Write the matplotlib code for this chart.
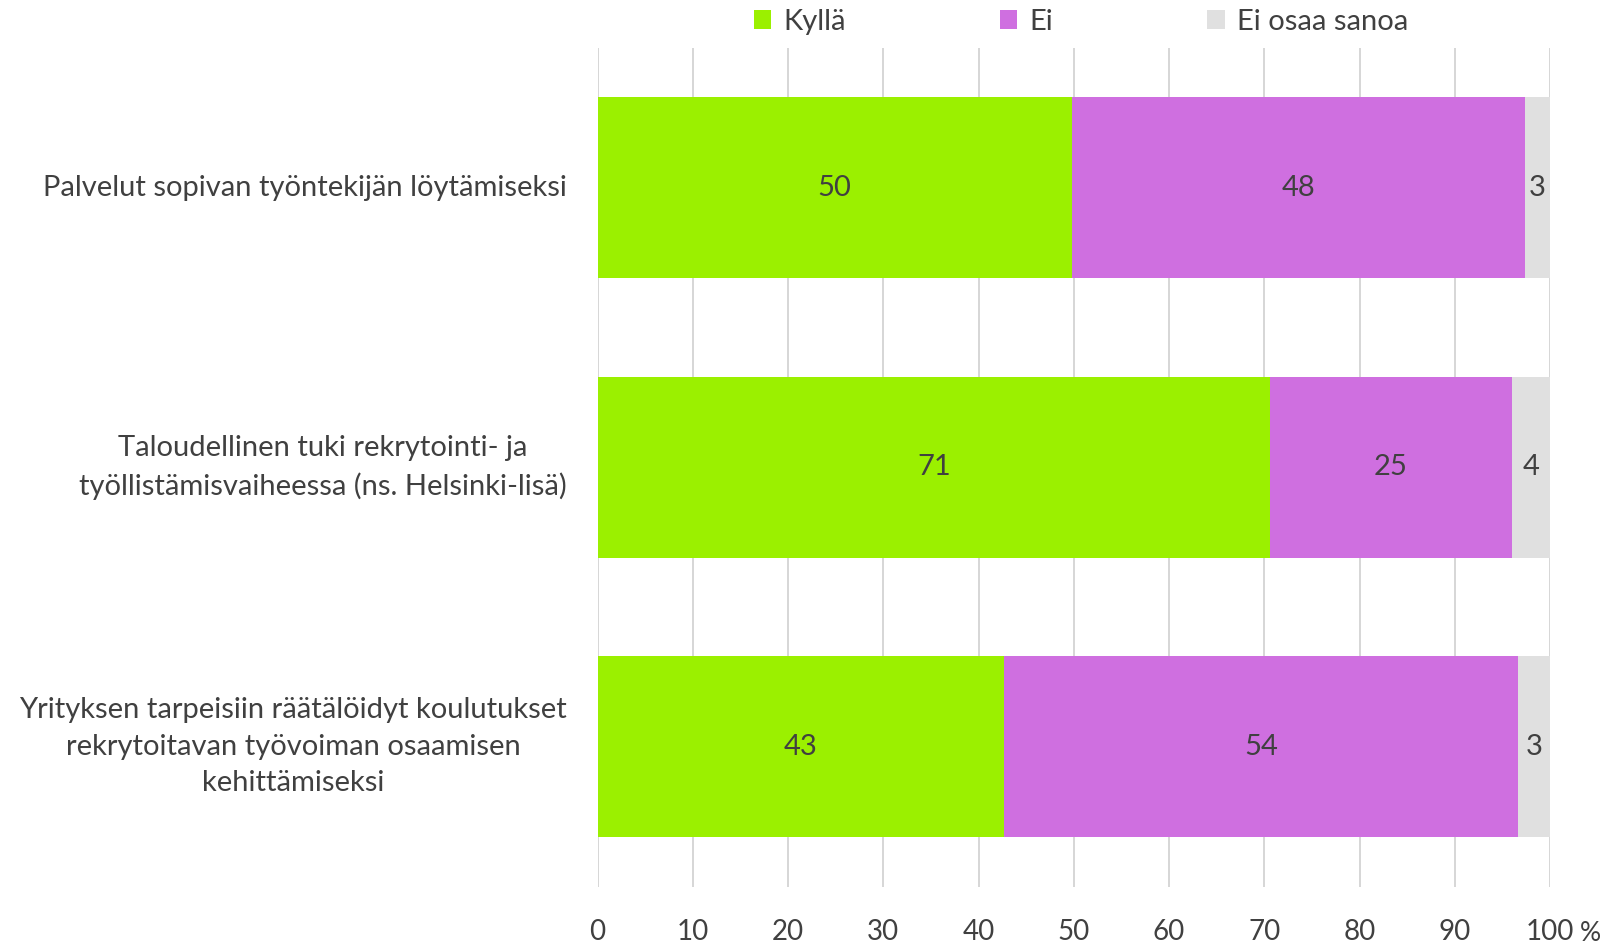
import matplotlib.pyplot as plt
from matplotlib.patches import Patch

categories = [
    'Palvelut sopivan työntekijän löytämiseksi',
    'Taloudellinen tuki rekrytointi- ja\ntyöllistämisvaiheessa (ns. Helsinki-lisä)',
    'Yrityksen tarpeisiin räätälöidyt koulutukset\nrekrytoitavan työvoiman osaamisen\nkehittämiseksi',
]
kylla = [49.8, 70.6, 42.7]
ei = [47.6, 25.4, 53.9]
eos = [2.6, 4.0, 3.4]
series_names = ['Kyllä', 'Ei', 'Ei osaa sanoa']
colors = ['#9BF000', '#CF6FE0', '#E0E0E0']
xticks = [0, 10, 20, 30, 40, 50, 60, 70, 80, 90, 100]

plt.rcParams['font.family'] = ['Lato', 'DejaVu Sans']
text_col = '#404040'
fs = 21

fig = plt.figure(figsize=(16.18, 9.44), dpi=100)
ax = fig.add_axes([0.3693, 0.0607, 0.5887, 0.8888])

ypos = list(range(len(categories)))
left = [0.0] * len(categories)
for vals, name, col in zip([kylla, ei, eos], series_names, colors):
    bars = ax.barh(ypos, vals, left=left, height=0.647, color=col, label=name, zorder=3)
    for b, v in zip(bars, vals):
        ax.text(b.get_x() + b.get_width() / 2, b.get_y() + b.get_height() / 2,
                f'{round(v):d}', ha='center', va='center', fontsize=fs, color=text_col, zorder=4)
    left = [l + v for l, v in zip(left, vals)]

ax.set_xlim(0, 100)
ax.set_ylim(len(categories) - 0.5, -0.5)
ax.set_xticks(xticks)
ax.set_xticklabels([str(t) for t in xticks])
ax.set_yticks(ypos)
ax.set_yticklabels(categories, multialignment='center', linespacing=1.5, va='center')
ax.tick_params(axis='x', length=0, pad=23, labelsize=20, labelcolor=text_col)
ax.tick_params(axis='y', length=0, pad=22, labelsize=fs, labelcolor=text_col)
ax.grid(axis='x', color='#D0D0D0', linewidth=1.2, zorder=0)
for s in ax.spines.values():
    s.set_visible(False)

ax.text(1.042, -0.056, '%', transform=ax.transAxes, ha='center', va='center',
        fontsize=19, color=text_col)

handles = [Patch(facecolor=c, edgecolor='none') for c in colors]
fig.legend(handles, series_names, loc='center', bbox_to_anchor=(0.668, 0.977), ncol=3,
           frameon=False, fontsize=fs, labelcolor=text_col, handlelength=0.6,
           handleheight=0.6, handletextpad=0.4, columnspacing=5.3)

fig.savefig('out.png', dpi=100)
